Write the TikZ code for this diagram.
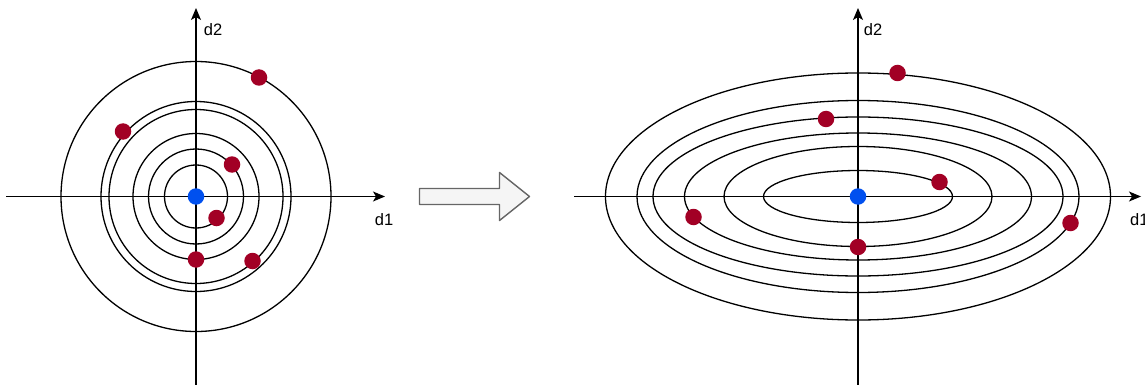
\documentclass[tikz,border=0pt]{standalone}
\usepackage{fontspec}
\setmainfont{Liberation Sans}
\usepackage{tikz}
\usetikzlibrary{arrows.meta}
\definecolor{cPt}{HTML}{A20025}
\definecolor{cCtr}{HTML}{0050EF}
\definecolor{cLine}{HTML}{000000}
\definecolor{cArr}{HTML}{666666}
\definecolor{cArrFill}{HTML}{F5F5F5}
\tikzset{
  axis/.style={draw=cLine, line width=1.3pt, -{Stealth[length=12pt, width=10pt, inset=3pt]}},
  ring/.style={draw=cLine, line width=1.3pt},
  pt/.style={circle, fill=cPt, inner sep=0pt, minimum size=16.5pt},
  ctr/.style={circle, fill=cCtr, inner sep=0pt, minimum size=16.5pt},
  lbl/.style={font=\fontsize{16.5pt}{19pt}\selectfont, inner sep=0pt},
  bigarrow/.style={draw=cArr, fill=cArrFill, line width=1.4pt, line join=round},
}

\begin{document}
\begin{tikzpicture}[x=1pt, y=-1pt]
  \useasboundingbox (0,0) rectangle (1145,385);
  \coordinate (L) at (196,196.5);
  \coordinate (R) at (858,196.5);

  % left: circles
  \draw[axis] (6,196.5) -- (385,196.5);
  \draw[axis] (196,385) -- (196,8);
  \foreach \r in {31.5,47.5,63,87,95,135}
    \draw[ring] (L) circle[radius=\r];
  \node[lbl] (ld2) at (213,30) {d2};
  \node[lbl] (ld1) at (384,220) {d1};
  \node[pt] (la) at (259,77.5) {};
  \node[pt] (lb) at (123,131.5) {};
  \node[pt] (lc) at (232,164.5) {};
  \node[pt] (ld) at (216.5,218) {};
  \node[pt] (le) at (196,259.5) {};
  \node[pt] (lf) at (252.5,261) {};
  \node[ctr] (lo) at (L) {};

  % block arrow
  \draw[bigarrow] (419.5,188.5) -- (499.5,188.5) -- (499.5,172.5) -- (529.5,196.5)
    -- (499.5,220.5) -- (499.5,204.5) -- (419.5,204.5) -- cycle;

  % right: ellipses
  \draw[axis] (574,196.5) -- (1141,196.5);
  \draw[axis] (858,385) -- (858,8);
  \foreach \a/\b in {94.5/26, 134/50, 173.5/63.5, 205/79.5, 221/96, 252.5/123.5}
    \draw[ring] (R) ellipse[x radius=\a, y radius=\b];
  \node[lbl] (rd2) at (873,30) {d2};
  \node[lbl, anchor=west] (rd1) at (1130,220) {d1};
  \node[pt] (ra) at (897.5,73) {};
  \node[pt] (rb) at (826,119) {};
  \node[pt] (rc) at (939.5,182) {};
  \node[pt] (rd) at (693.5,217) {};
  \node[pt] (re) at (858,247) {};
  \node[pt] (rf) at (1070.5,223) {};
  \node[ctr] (ro) at (R) {};
\end{tikzpicture}
\end{document}
